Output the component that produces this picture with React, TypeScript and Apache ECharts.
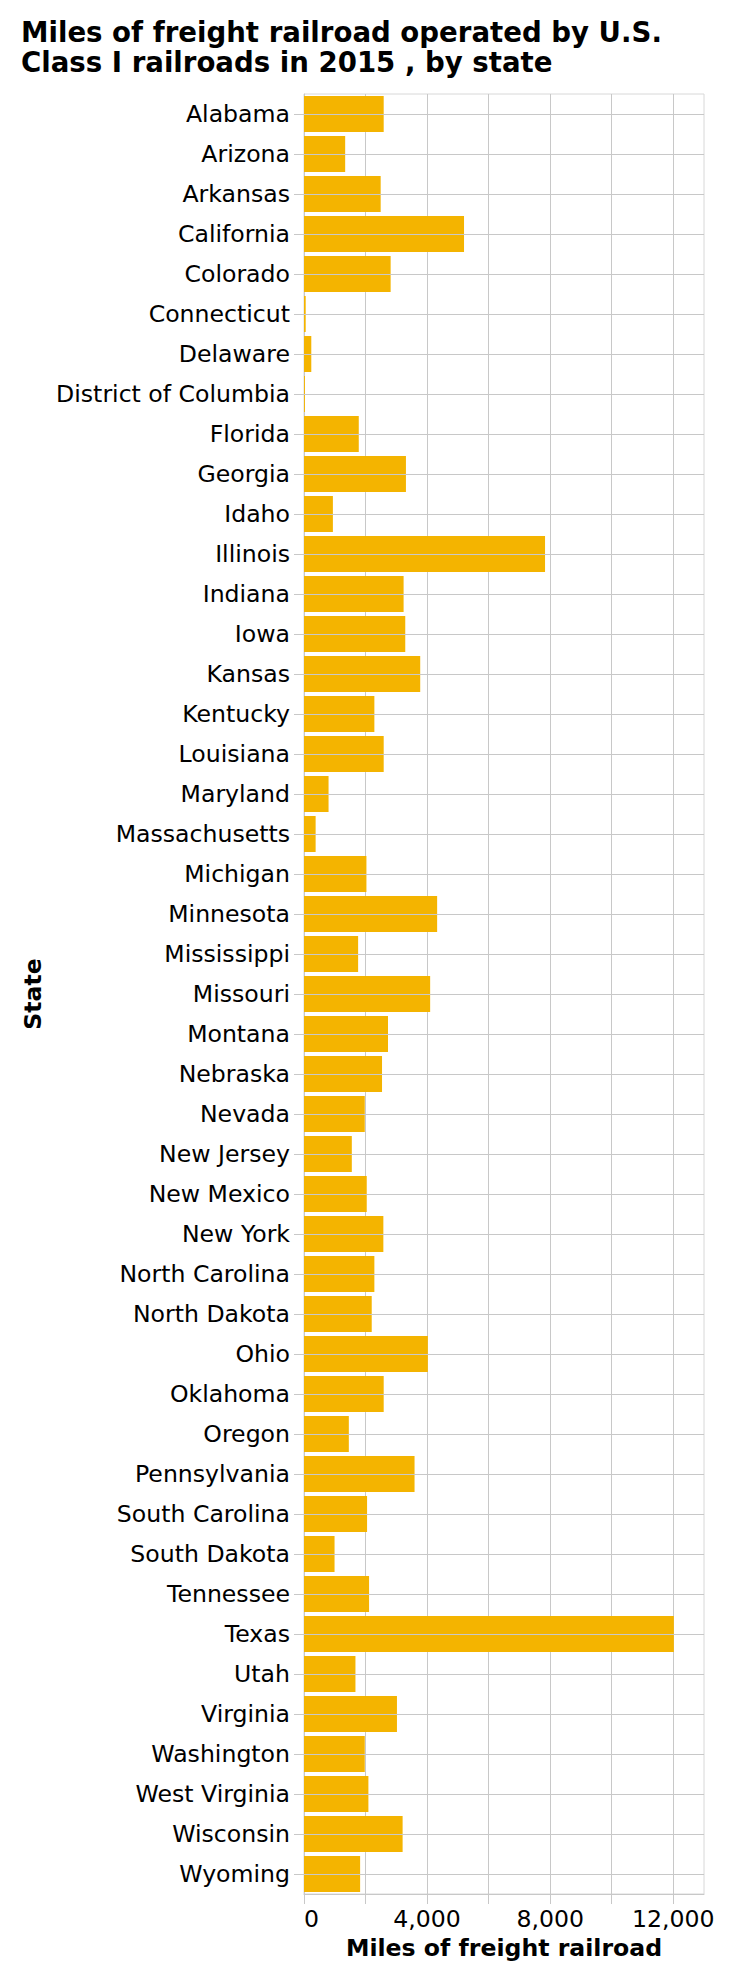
import React, { useEffect, useRef } from "react";
import * as echarts from "echarts";

const titleText = "Miles of freight railroad operated by U.S.\nClass I railroads in 2015 , by state";
const xAxisTitle = "Miles of freight railroad";
const yAxisTitle = "State";

const states = [
  "Alabama", "Arizona", "Arkansas", "California", "Colorado", "Connecticut", "Delaware",
  "District of Columbia", "Florida", "Georgia", "Idaho", "Illinois", "Indiana", "Iowa",
  "Kansas", "Kentucky", "Louisiana", "Maryland", "Massachusetts", "Michigan", "Minnesota",
  "Mississippi", "Missouri", "Montana", "Nebraska", "Nevada", "New Jersey", "New Mexico",
  "New York", "North Carolina", "North Dakota", "Ohio", "Oklahoma", "Oregon", "Pennsylvania",
  "South Carolina", "South Dakota", "Tennessee", "Texas", "Utah", "Virginia", "Washington",
  "West Virginia", "Wisconsin", "Wyoming",
];

const miles = [
  2590, 1338, 2492, 5201, 2816, 55, 237,
  30, 1780, 3313, 939, 7834, 3237, 3291,
  3777, 2287, 2590, 798, 378, 2029, 4327,
  1759, 4100, 2730, 2536, 1975, 1554, 2039,
  2579, 2287, 2201, 4025, 2590, 1457, 3593,
  2050, 993, 2115, 12020, 1672, 3021, 1975,
  2093, 3205, 1824,
];

const xMin = 0;
const xMax = 13000;
const xGridStep = 2000;
const xTickValues = [0, 2000, 4000, 6000, 8000, 10000, 12000];
const xLabelValues = [0, 4000, 8000, 12000];

const FONT = "DejaVu Sans";
const BAR_COLOR = "#f4b400";
const GRID_COLOR = "#c8c8c8";
const LABEL_SIZE = 23.6;

export default function App() {
  const ref = useRef<HTMLDivElement>(null);

  useEffect(() => {
    document.body.style.margin = "0";
    if (!ref.current) return;
    const chart = echarts.init(ref.current, undefined, { renderer: "svg" });
    chart.setOption({
      animation: false,
      backgroundColor: "#ffffff",
      title: {
        text: titleText,
        left: 21,
        top: 17,
        padding: 0,
        textStyle: {
          fontFamily: FONT,
          fontSize: 27.6,
          fontWeight: "bold",
          color: "#000",
          lineHeight: 30,
        },
      },
      grid: {
        left: 304,
        top: 94,
        width: 400,
        height: 1800,
        show: true,
        borderColor: "#d8d8d8",
        borderWidth: 1,
        backgroundColor: "transparent",
      },
      xAxis: {
        type: "value",
        min: xMin,
        max: xMax,
        interval: xGridStep,
        name: xAxisTitle,
        nameLocation: "middle",
        nameGap: 42,
        nameTextStyle: {
          fontFamily: FONT,
          fontSize: LABEL_SIZE,
          fontWeight: "bold",
          color: "#000",
        },
        axisLine: { show: true, lineStyle: { color: GRID_COLOR, width: 1 } },
        axisTick: {
          show: true,
          length: 10,
          lineStyle: { color: GRID_COLOR, width: 1 },
          customValues: xTickValues,
        },
        axisLabel: {
          fontFamily: FONT,
          fontSize: LABEL_SIZE,
          color: "#000",
          margin: 13,
          alignMinLabel: "left",
          formatter: (v: number) =>
            xLabelValues.indexOf(v) >= 0 ? v.toLocaleString("en-US") : "",
        },
        splitLine: { show: true, lineStyle: { color: GRID_COLOR, width: 1 } },
      },
      yAxis: {
        type: "category",
        data: states,
        inverse: true,
        name: yAxisTitle,
        nameLocation: "middle",
        nameGap: 256,
        nameTextStyle: {
          fontFamily: FONT,
          fontSize: LABEL_SIZE,
          fontWeight: "bold",
          color: "#000",
        },
        axisLine: { show: true, lineStyle: { color: GRID_COLOR, width: 1 } },
        axisTick: {
          show: true,
          alignWithLabel: true,
          length: 10,
          lineStyle: { color: GRID_COLOR, width: 1 },
        },
        axisLabel: {
          fontFamily: FONT,
          fontSize: LABEL_SIZE,
          color: "#000",
          margin: 14,
          interval: 0,
        },
        splitLine: { show: false },
      },
      series: [
        {
          type: "line",
          data: [],
          z: 1,
          silent: true,
          markLine: {
            silent: true,
            symbol: "none",
            label: { show: false },
            lineStyle: { color: GRID_COLOR, width: 1, type: "solid" },
            data: states.map((s) => ({ yAxis: s })),
          },
        },
        {
          type: "bar",
          data: miles,
          z: 2,
          barCategoryGap: "10%",
          itemStyle: { color: BAR_COLOR },
        },
      ],
    });
    return () => chart.dispose();
  }, []);

  return <div ref={ref} style={{ width: 738, height: 1980 }} />;
}
